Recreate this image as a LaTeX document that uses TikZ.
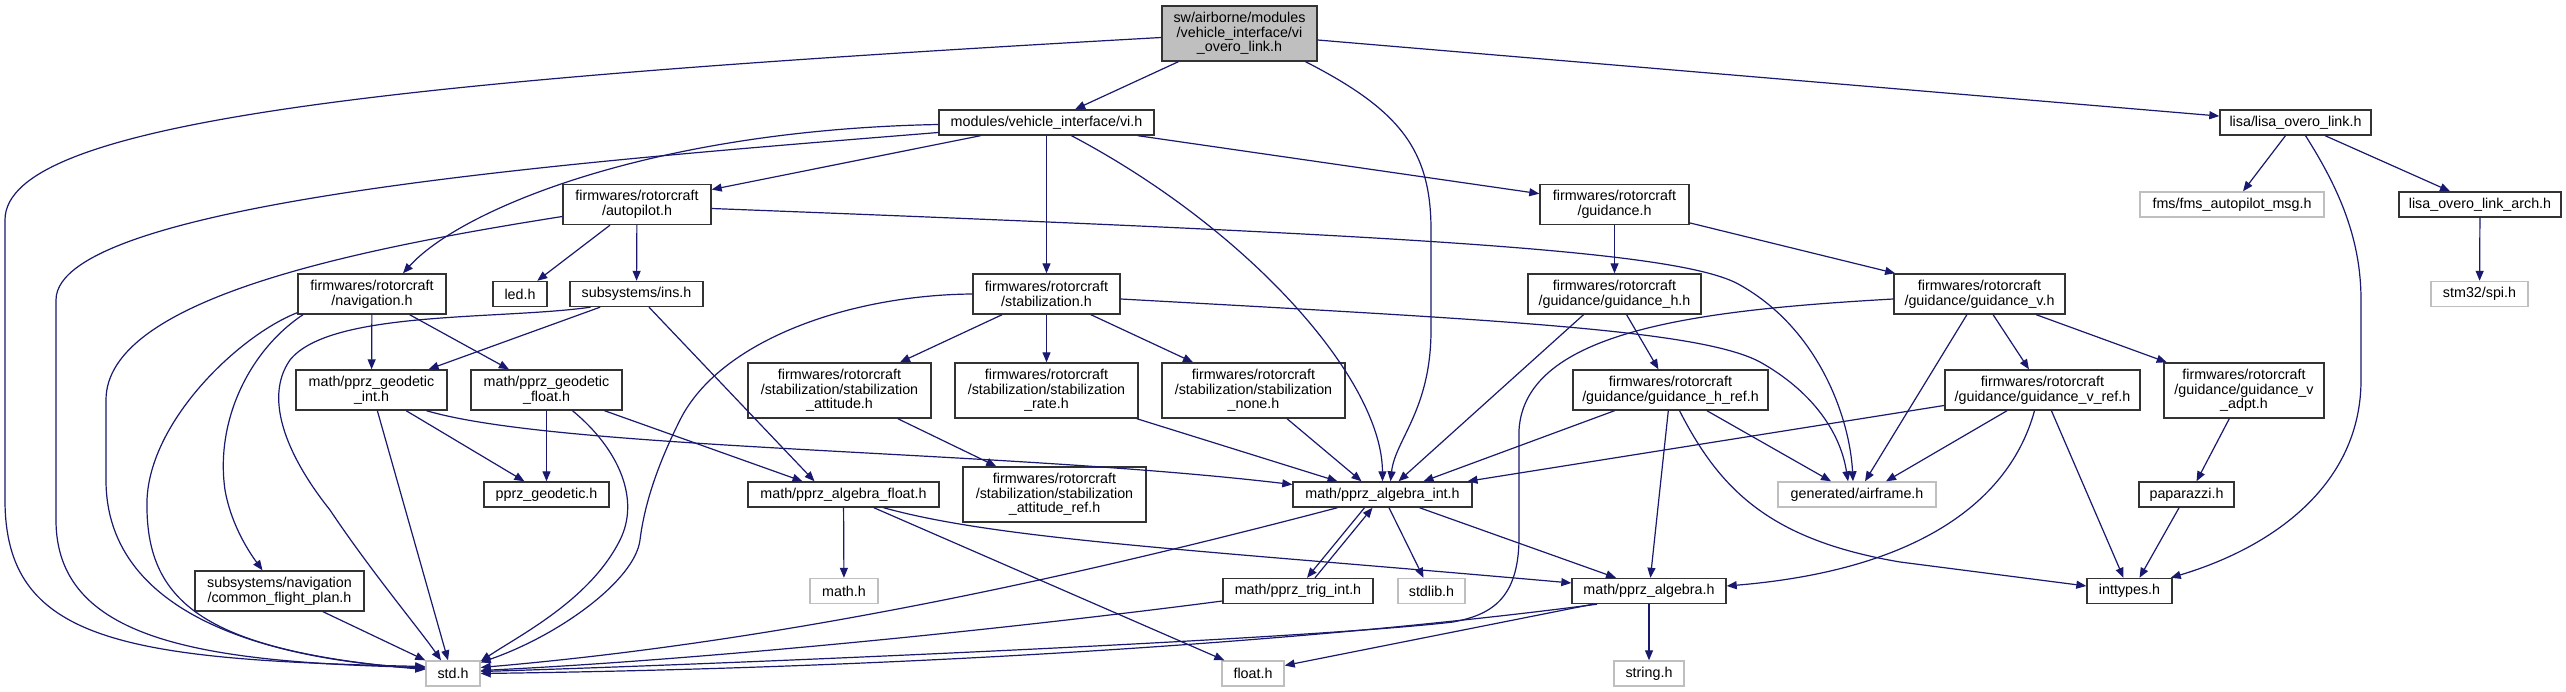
\documentclass[tikz,border=0pt]{standalone}
\usepackage{fontspec}
\setmainfont{Liberation Sans}
\usetikzlibrary{arrows.meta}
\definecolor{edgec}{RGB}{25,25,112}
\definecolor{grayb}{RGB}{191,191,191}
\begin{document}
\begin{tikzpicture}[x=1pt,y=-1pt,
  nd/.style={draw=black!80, line width=1.4pt, fill=white, inner sep=0pt, align=center,
    font=\fontsize{14.3}{14.7}\selectfont},
  ext/.style={nd, draw=grayb},
  root/.style={nd, fill=grayb},
  sz/.style 2 args={minimum width=#1pt, minimum height=#2pt},
  e/.style={draw=edgec, line width=1.2pt, -{Triangle[length=10pt,width=8pt]}}]
\useasboundingbox[fill=white] (0,0) rectangle (2566,692);
% nodes
\node[root, sz={155}{55}] (top) at (1239.5,33.5) {sw/airborne/modules\\/vehicle\_interface/vi\\\_overo\_link.h};
\node[nd, sz={215}{25}] (vi) at (1046.5,122.5) {modules/vehicle\_interface/vi.h};
\node[nd, sz={151}{25}] (lisa) at (2295.5,122.5) {lisa/lisa\_overo\_link.h};
\node[nd, sz={148}{40}] (autopilot) at (637,204.5) {firmwares/rotorcraft\\/autopilot.h};
\node[nd, sz={149}{40}] (guidance) at (1614.5,204.5) {firmwares/rotorcraft\\/guidance.h};
\node[ext, sz={184}{25}] (fms) at (2232,204.5) {fms/fms\_autopilot\_msg.h};
\node[nd, sz={162}{25}] (lisaarch) at (2480,204.5) {lisa\_overo\_link\_arch.h};
\node[nd, sz={148}{40}] (navigation) at (372,294) {firmwares/rotorcraft\\/navigation.h};
\node[nd, sz={54}{25}] (led) at (520,294) {led.h};
\node[nd, sz={133}{25}] (ins) at (636.5,294) {subsystems/ins.h};
\node[nd, sz={147}{40}] (stab) at (1046.5,294) {firmwares/rotorcraft\\/stabilization.h};
\node[nd, sz={173}{40}] (guidh) at (1614.5,294) {firmwares/rotorcraft\\/guidance/guidance\_h.h};
\node[nd, sz={171}{40}] (guidv) at (1979.5,294) {firmwares/rotorcraft\\/guidance/guidance\_v.h};
\node[ext, sz={97}{25}] (spi) at (2479.5,294) {stm32/spi.h};
\node[nd, sz={183}{55}] (stabatt) at (839.5,390.5) {firmwares/rotorcraft\\/stabilization/stabilization\\\_attitude.h};
\node[nd, sz={183}{55}] (stabrate) at (1046.5,390.5) {firmwares/rotorcraft\\/stabilization/stabilization\\\_rate.h};
\node[nd, sz={183}{55}] (stabnone) at (1253.5,390.5) {firmwares/rotorcraft\\/stabilization/stabilization\\\_none.h};
\node[nd, sz={151}{40}] (geoint) at (371.5,390) {math/pprz\_geodetic\\\_int.h};
\node[nd, sz={151}{40}] (geofloat) at (546.5,390) {math/pprz\_geodetic\\\_float.h};
\node[nd, sz={195}{40}] (guidhref) at (1670.5,390) {firmwares/rotorcraft\\/guidance/guidance\_h\_ref.h};
\node[nd, sz={195}{40}] (guidvref) at (2042.5,390) {firmwares/rotorcraft\\/guidance/guidance\_v\_ref.h};
\node[nd, sz={160}{55}] (guidvadpt) at (2244,390.5) {firmwares/rotorcraft\\/guidance/guidance\_v\\\_adpt.h};
\node[nd, sz={183}{55}] (stabattref) at (1054.5,494.5) {firmwares/rotorcraft\\/stabilization/stabilization\\\_attitude\_ref.h};
\node[nd, sz={125}{25}] (geodetic) at (546.5,494.5) {pprz\_geodetic.h};
\node[nd, sz={191}{25}] (algfloat) at (843.5,494.5) {math/pprz\_algebra\_float.h};
\node[nd, sz={179}{25}] (algint) at (1382.5,494.5) {math/pprz\_algebra\_int.h};
\node[ext, sz={158}{25}] (airframe) at (1857,494.5) {generated/airframe.h};
\node[nd, sz={95}{25}] (paparazzi) at (2186.5,494.5) {paparazzi.h};
\node[nd, sz={169}{40}] (cfp) at (279.5,591) {subsystems/navigation\\/common\_flight\_plan.h};
\node[ext, sz={68}{25}] (math) at (844,591) {math.h};
\node[nd, sz={150}{25}] (trig) at (1298,591) {math/pprz\_trig\_int.h};
\node[ext, sz={67}{25}] (stdlib) at (1431.5,591) {stdlib.h};
\node[nd, sz={154}{25}] (alg) at (1649,591) {math/pprz\_algebra.h};
\node[nd, sz={85}{25}] (inttypes) at (2129.5,591) {inttypes.h};
\node[ext, sz={54}{25}] (std) at (453,673.5) {std.h};
\node[ext, sz={62}{25}] (float) at (1253,673.5) {float.h};
\node[ext, sz={70}{25}] (string) at (1649,673.5) {string.h};
% edges from top
\draw[e] ([yshift=-4pt]top.west) .. controls (400,80) and (5,120) .. (5,220) -- (5,500) .. controls (5,640) and (120,660) .. ([yshift=7pt]std.west);
\draw[e] (top) -- (vi);
\draw[e] ([xshift=66pt]top.south) .. controls (1400,110) and (1431,150) .. (1431,230) -- (1431,330) .. controls (1431,410) and (1395,440) .. ([xshift=8pt]algint.north);
\draw[e] (top) -- (lisa);
% vi
\draw[e] ([yshift=-10pt]vi.west) .. controls (600,160) and (56,200) .. (56,300) -- (56,520) .. controls (56,640) and (200,662) .. ([yshift=6pt]std.west);
\draw[e] ([yshift=-2pt]vi.west) .. controls (650,130) and (460,210) .. ([xshift=31pt]navigation.north);
\draw[e] (vi) -- (autopilot);
\draw[e] (vi) -- (stab);
\draw[e] ([xshift=25pt]vi.south) .. controls (1250,230) and (1382,380) .. (algint.north);
\draw[e] (vi) -- (guidance);
% autopilot
\draw[e] ([yshift=-12pt]autopilot.west) .. controls (350,250) and (106,300) .. (106,400) -- (106,480) .. controls (106,620) and (280,660) .. ([yshift=5pt]std.west);
\draw[e] (autopilot) -- (led);
\draw[e] (autopilot) -- (ins);
\draw[e] ([yshift=-4pt]autopilot.east) .. controls (1400,235) and (1680,250) .. (1740,285) .. controls (1820,330) and (1850,420) .. ([xshift=-4pt]airframe.north);
% ins
\draw[e] ([xshift=-46pt]ins.south) .. controls (500,320) and (330,310) .. (290,360) .. controls (262,400) and (290,460) .. (330,510) .. controls (370,570) and (420,630) .. ([xshift=-12pt]std.north);
\draw[e] (ins) -- (geoint);
\draw[e] (ins) -- ([xshift=-29pt]algfloat.north);
% navigation
\draw[e] ([yshift=2pt]navigation.south west) .. controls (240,335) and (150,420) .. (147,500) .. controls (145,600) and (200,650) .. ([yshift=4pt]std.west);
\draw[e] ([xshift=-69pt]navigation.south) .. controls (250,350) and (215,420) .. (225,490) .. controls (232,530) and (255,560) .. ([xshift=-17pt]cfp.north);
\draw[e] (navigation) -- (geoint);
\draw[e] (navigation) -- (geofloat);
% geodetic
\draw[e] (geoint) -- ([xshift=-5pt]std.north);
\draw[e] (geoint) -- (geodetic);
\draw[e] ([xshift=55pt]geoint.south) .. controls (560,450) and (1000,450) .. ([yshift=10pt]algint.west);
\draw[e] (geofloat) -- (geodetic);
\draw[e] ([xshift=26pt]geofloat.south) .. controls (620,450) and (640,500) .. (620,540) .. controls (590,600) and (520,635) .. ([yshift=-1pt]std.north east);
\draw[e] (geofloat) -- ([xshift=-41pt]algfloat.north);
\draw[e] (cfp) -- (std);
% stabilization
\draw[e] (stab.west) .. controls (850,295) and (720,340) .. (680,420) .. controls (660,460) and (645,500) .. (640,540) .. controls (635,580) and (560,635) .. ([yshift=11pt]std.east);
\draw[e] (stab) -- (stabatt);
\draw[e] (stab) -- (stabrate);
\draw[e] (stab) -- (stabnone);
\draw[e] ([yshift=-5pt]stab.east) .. controls (1500,320) and (1700,330) .. (1760,362) .. controls (1810,390) and (1840,430) .. ([xshift=-9pt]airframe.north);
\draw[e] (stabatt) -- (stabattref);
\draw[e] (stabrate) -- ([xshift=-45pt]algint.north);
\draw[e] (stabnone) -- ([xshift=-21pt]algint.north);
% guidance
\draw[e] (guidance) -- (guidh);
\draw[e] (guidance) -- (guidv);
\draw[e] ([xshift=-31pt]guidh.south) -- ([xshift=16pt]algint.north);
\draw[e] (guidh) -- (guidhref);
\draw[e] ([yshift=-5pt]guidv.west) .. controls (1700,310) and (1525,330) .. (1519,430) -- (1519,540) .. controls (1518,600) and (1490,615) .. (1453,622) .. controls (1300,640) and (700,665) .. ([yshift=2pt]std.east);
\draw[e] (guidv) -- ([xshift=8pt]airframe.north);
\draw[e] (guidv) -- (guidvref);
\draw[e] (guidv) -- (guidvadpt);
\draw[e] (guidhref) -- ([xshift=41pt]algint.north);
\draw[e] (guidhref) -- ([xshift=-26pt]airframe.north);
\draw[e] (guidhref) -- (alg);
\draw[e] ([xshift=9pt]guidhref.south) .. controls (1720,490) and (1770,540) .. (1900,562) -- ([yshift=5pt]inttypes.west);
\draw[e] (guidvref) -- ([xshift=85pt]algint.north);
\draw[e] (guidvref) -- ([xshift=29pt]airframe.north);
\draw[e] ([xshift=-8pt]guidvref.south) .. controls (2010,500) and (1920,570) .. ([yshift=5pt]alg.east);
\draw[e] (guidvref) -- ([xshift=-6pt]inttypes.north);
\draw[e] (guidvadpt) -- ([xshift=10pt]paparazzi.north);
\draw[e] (paparazzi) -- ([xshift=10pt]inttypes.north);
% lisa
\draw[e] (lisa) -- ([xshift=11pt]fms.north);
\draw[e] (lisa) -- ([xshift=-30pt]lisaarch.north);
\draw[e] ([xshift=10pt]lisa.south) .. controls (2340,190) and (2361,240) .. (2361,300) -- (2361,380) .. controls (2361,480) and (2280,545) .. ([xshift=-2pt]inttypes.north east);
\draw[e] (lisaarch) -- (spi);
% algebra int
\draw[e] ([xshift=-45pt]algint.south) .. controls (1100,570) and (800,640) .. ([yshift=6pt]std.east);
\draw[e] ([xshift=-18pt]algint.south) -- ([xshift=9pt]trig.north);
\draw[e] ([xshift=17pt]trig.north) -- ([xshift=-10pt]algint.south);
\draw[e] (algint) -- ([xshift=-8pt]stdlib.north);
\draw[e] (algint) -- ([xshift=-33pt]alg.north);
\draw[e] ([yshift=-10pt]trig.west) .. controls (1000,630) and (700,660) .. ([yshift=3pt]std.east);
% algebra float
\draw[e] (algfloat) -- (math);
\draw[e] (algfloat) -- ([xshift=3pt]float.north west);
\draw[e] ([xshift=40pt]algfloat.south) .. controls (1000,540) and (1200,550) .. ([yshift=8pt]alg.west);
% algebra
\draw[e] ([xshift=-52pt]alg.south) .. controls (1300,643) and (900,668) .. (std.east);
\draw[e] ([xshift=-56pt]alg.south) -- ([yshift=8pt]float.east);
\draw[e] (alg) -- (string);
\end{tikzpicture}
\end{document}
